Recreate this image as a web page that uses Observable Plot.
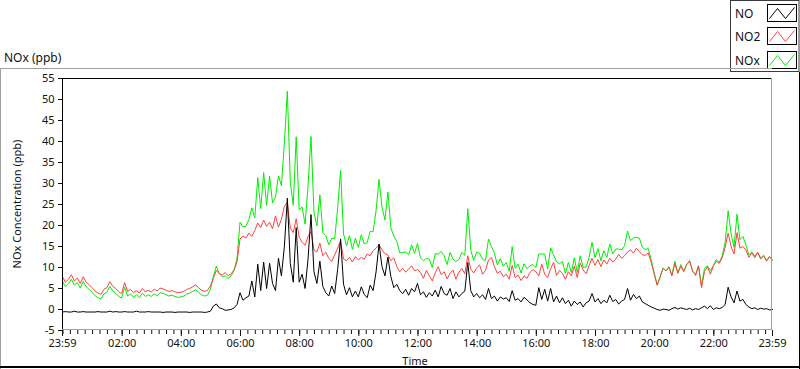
<!DOCTYPE html>
<html><head><meta charset="utf-8">
<script src="https://cdn.jsdelivr.net/npm/d3@7"></script>
<script src="https://cdn.jsdelivr.net/npm/@observablehq/plot@0.6"></script>
<style>
html,body{margin:0;padding:0;background:#fff;}
#chart{width:800px;height:369px;}
svg{display:block;}
</style></head><body><div id="chart"></div>
<script>
// time base: first sample at 23:59 of previous day, one sample every 6 minutes, 241 samples
const startTime = "2023-05-01T23:59:00Z";
const stepMinutes = 6;

const no = [
-0.6,-0.5,-0.6,-0.6,-0.4,-0.6,-0.6,-0.5,-0.6,-0.6,
-0.6,-0.6,-0.5,-0.6,-0.6,-0.6,-0.4,-0.6,-0.5,-0.6,
-0.6,-0.5,-0.6,-0.6,-0.6,-0.4,-0.6,-0.6,-0.6,-0.5,
-0.6,-0.6,-0.6,-0.6,-0.7,-0.6,-0.6,-0.6,-0.7,-0.6,
-0.6,-0.6,-0.6,-0.7,-0.6,-0.6,-0.6,-0.6,-0.7,-0.6,
-0.4,0.8,1.3,0.4,0.2,-0.2,-0.1,0.0,0.4,1.2,
4.0,2.2,2.8,3.2,6.8,3.0,10.8,4.5,11.3,5.0,
11.0,6.2,4.5,12.2,8.0,15.0,26.5,11.0,6.5,19.5,
6.5,8.4,5.0,12.0,22.6,9.0,6.2,11.5,5.5,4.0,
3.2,5.6,3.8,9.5,16.8,6.0,3.5,5.2,3.0,4.4,
3.0,5.4,3.6,2.8,5.8,4.5,9.0,15.6,10.2,8.0,
12.5,7.8,5.2,6.0,4.5,3.8,4.8,3.4,5.0,4.2,
6.2,3.5,4.2,2.9,4.0,3.2,4.6,3.0,5.5,3.8,
3.4,5.0,2.6,4.2,3.0,3.8,4.4,11.2,4.5,3.0,
3.8,2.8,3.5,2.4,5.0,2.6,3.2,2.0,3.0,2.5,
2.8,1.9,4.5,2.2,2.6,1.8,2.9,2.3,1.6,1.2,
1.0,5.2,2.4,4.8,2.0,5.0,1.8,3.2,1.6,2.8,
1.4,2.2,0.8,2.0,1.2,1.8,0.6,1.6,2.0,3.8,
1.8,2.6,1.4,2.2,1.6,3.4,1.9,2.4,1.3,2.0,
2.4,5.0,2.2,3.6,2.6,3.2,1.8,1.4,1.0,0.6,
0.3,0.0,-0.2,0.1,0.0,-0.2,0.2,0.5,0.1,0.4,
0.2,0.0,0.3,-0.1,0.2,0.0,0.4,0.8,0.2,0.9,
0.0,0.4,0.2,0.5,1.2,5.3,3.0,1.6,4.4,2.0,
2.4,1.2,0.6,0.2,0.4,0.0,0.3,0.1,0.2,-0.1,
0.0];

const no2 = [
7.8,6.5,7.2,8.3,6.8,7.5,6.2,7.8,6.5,5.9,
5.2,4.4,3.9,3.6,4.8,5.2,6.6,5.5,5.0,4.2,
3.8,6.4,4.3,4.8,4.0,4.5,3.9,5.0,4.2,4.6,
4.2,4.8,4.4,5.1,4.9,4.6,4.3,4.5,4.2,4.0,
4.1,4.3,4.8,5.0,5.4,5.8,5.2,4.6,4.3,4.5,
5.6,7.4,9.3,8.6,8.2,8.8,8.0,8.5,9.4,11.3,
16.8,17.5,17.0,18.2,17.4,18.8,20.6,19.5,21.3,19.8,
20.8,19.2,22.3,19.6,21.5,24.6,25.5,19.4,18.3,21.6,
17.2,16.0,15.3,17.4,18.6,14.2,13.7,15.8,12.8,13.6,
12.2,11.4,13.0,14.6,16.3,12.0,11.6,12.4,11.3,12.6,
11.8,12.4,12.0,13.2,12.8,14.0,14.6,15.4,14.2,13.3,
13.0,11.6,12.3,10.2,9.0,9.8,8.9,9.6,10.4,9.2,
9.5,8.8,7.4,9.3,8.0,6.8,8.7,10.2,8.3,9.0,
7.3,8.6,9.4,7.2,8.9,9.8,8.5,12.8,9.6,8.7,
9.9,10.6,8.4,9.3,11.8,12.4,10.2,8.6,9.1,7.8,
8.4,7.2,10.5,7.6,8.2,6.9,8.0,7.4,8.8,9.5,
9.0,8.0,10.8,8.4,7.6,9.7,11.2,8.1,9.3,8.6,
7.2,9.0,8.0,10.3,7.6,11.0,9.4,8.5,10.4,12.2,
10.5,11.9,10.2,11.8,10.8,12.2,11.3,12.0,13.1,12.2,
12.8,13.7,14.2,13.4,14.6,13.8,13.0,12.9,13.5,11.2,
8.5,5.8,7.8,9.8,9.2,10.2,8.0,11.0,8.6,10.3,
9.0,10.7,11.4,9.2,8.1,10.4,5.2,9.0,10.2,8.4,
10.4,11.5,11.0,12.3,14.8,18.2,15.0,13.2,18.3,14.6,
15.0,14.2,12.4,13.5,12.3,13.6,12.0,12.8,11.5,12.6,
11.8];

const nox = [
6.7,5.4,6.1,7.2,5.8,6.4,5.1,6.7,5.4,4.8,
4.1,3.3,2.8,2.5,3.7,4.1,5.5,4.4,3.9,3.1,
2.7,5.3,3.2,3.7,2.9,3.5,2.8,3.9,3.1,3.5,
3.1,3.7,3.3,4.0,3.8,3.5,3.2,3.4,3.1,2.9,
3.0,3.2,3.7,3.9,4.3,4.7,4.1,3.5,3.2,3.4,
4.8,7.9,10.3,8.5,7.8,8.0,7.4,8.0,9.3,12.2,
20.8,19.7,19.8,21.4,24.2,21.8,31.4,24.0,32.6,24.8,
31.8,25.4,26.8,31.8,29.5,39.6,52.0,30.4,24.8,41.1,
23.7,24.4,20.3,29.4,41.2,23.2,19.9,27.3,18.3,17.6,
15.4,17.0,16.8,24.1,33.1,18.0,15.1,17.6,14.3,17.0,
14.8,17.8,15.6,16.0,18.6,18.5,23.6,31.0,24.4,21.3,
28.0,19.4,17.5,16.2,13.5,13.6,13.7,13.0,15.4,13.4,
15.7,12.3,11.6,12.2,12.0,10.0,13.3,13.2,13.8,12.8,
10.7,13.6,12.0,11.4,11.9,13.6,12.9,24.0,14.1,11.7,
13.7,13.4,11.9,11.7,16.8,15.0,13.4,10.6,12.1,10.3,
11.2,9.1,15.0,9.8,10.8,8.7,10.9,9.7,10.4,10.7,
10.0,13.2,13.2,13.2,9.6,14.7,13.0,11.3,10.9,11.4,
8.6,11.2,8.8,12.3,8.8,12.8,10.0,10.1,12.4,16.0,
12.3,14.5,11.6,14.0,12.4,15.6,13.2,14.4,14.4,14.2,
15.2,18.7,16.4,17.0,17.2,17.0,14.8,14.3,14.5,11.8,
8.8,5.8,7.6,9.9,9.2,10.0,8.2,11.5,8.7,10.7,
9.2,10.7,11.7,9.1,8.3,10.4,5.6,9.8,10.4,9.3,
10.4,11.9,11.2,12.8,16.0,23.5,18.0,14.8,22.7,16.6,
17.4,15.4,13.0,13.7,12.7,13.6,12.3,12.9,11.7,12.5,
11.8];

const seriesNames = ["NO", "NO2", "NOx"];
const seriesColors = ["#000000", "#ff4040", "#00ee00"];
const yTicks = [-5, 0, 5, 10, 15, 20, 25, 30, 35, 40, 45, 50, 55];
const xTickLabels = ["23:59", "02:00", "04:00", "06:00", "08:00", "10:00", "12:00", "14:00", "16:00", "18:00", "20:00", "22:00", "23:59"];
const yTitle = "NOx Concentration (ppb)";
const xTitle = "Time";
const panelTitle = "NOx (ppb)";

const t0 = new Date(startTime);
const stepMs = stepMinutes * 60000;
const tEnd = new Date(t0.getTime() + 24 * 3600000);
const nextDay = "2023-05-02";

function rows(vals) { return vals.map((v, i) => ({time: new Date(t0.getTime() + i * stepMs), value: v})); }
const dNO = rows(no), dNO2 = rows(no2), dNOx = rows(nox);

const majorTicks = xTickLabels.map((lab, i) =>
  i === 0 ? t0 : i === xTickLabels.length - 1 ? tEnd : new Date(`${nextDay}T${lab}:00Z`));
const minorTicks = d3.utcMinute.every(15).range(new Date(`${nextDay}T00:00:00Z`), tEnd);
const fmt = d3.utcFormat("%H:%M");

const W = 800, H = 369;
const mL = 62, mR = 28, mT = 78, mB = 39;

const chart = Plot.plot({
  width: W, height: H,
  marginLeft: mL, marginRight: mR, marginTop: mT, marginBottom: mB,
  style: {fontFamily: "'Noto Sans', sans-serif", fontSize: "11px", color: "#111", background: "#fff", overflow: "visible"},
  x: {type: "utc", domain: [t0, tEnd]},
  y: {domain: [-5, 55]},
  marks: [
    Plot.lineY(dNOx, {x: "time", y: "value", stroke: seriesColors[2], strokeWidth: 1}),
    Plot.lineY(dNO2, {x: "time", y: "value", stroke: seriesColors[1], strokeWidth: 1}),
    Plot.lineY(dNO, {x: "time", y: "value", stroke: seriesColors[0], strokeWidth: 1}),
    Plot.axisY(yTicks, {anchor: "left", tickSize: 4, tickPadding: 4, tickFormat: d => String(d), label: null}),
    Plot.axisX(minorTicks, {anchor: "bottom", tickSize: 4, tickFormat: () => "", label: null}),
    Plot.axisX(majorTicks, {anchor: "bottom", tickSize: 6, tickPadding: 3, tickFormat: fmt, label: null})
  ]
});
document.getElementById("chart").appendChild(chart);

const svg = d3.select(chart);
const g = svg.append("g").attr("fill", "none");
const x0 = mL, x1 = W - mR, y0 = mT, y1 = H - mB;

// plot area frame (sunken look)
g.append("line").attr("x1", x0).attr("x2", x1).attr("y1", y0 + 0.5).attr("y2", y0 + 0.5).attr("stroke", "#000");
g.append("line").attr("x1", x0 + 0.5).attr("x2", x0 + 0.5).attr("y1", y0).attr("y2", y1).attr("stroke", "#000");
g.append("line").attr("x1", x0).attr("x2", x1).attr("y1", y1 - 0.5).attr("y2", y1 - 0.5).attr("stroke", "#a0a0a0");
g.append("line").attr("x1", x1 - 0.5).attr("x2", x1 - 0.5).attr("y1", y0).attr("y2", y1).attr("stroke", "#a0a0a0");

// legend box
const lg = svg.append("g").attr("text-anchor", "start");
lg.append("rect").attr("x", 730.5).attr("y", 0.5).attr("width", 68.5).attr("height", 71)
  .attr("fill", "#fff").attr("stroke", "#3a3a3a");
seriesNames.forEach((name, k) => {
  const cy = [13, 36, 60][k];
  lg.append("text").attr("x", 735).attr("y", cy + 4.5).attr("text-anchor", "start")
    .attr("font-family", "'Noto Sans', sans-serif")
    .attr("font-size", "12px").attr("fill", "#111").text(name);
  const bx = 767.5, by = cy - 8.5;
  lg.append("rect").attr("x", bx).attr("y", by).attr("width", 29).attr("height", 17)
    .attr("fill", "#fff").attr("stroke", "#000");
  lg.append("polyline").attr("fill", "none").attr("stroke", seriesColors[k]).attr("stroke-width", 1)
    .attr("points", [[bx + 2, by + 14], [bx + 10, by + 4], [bx + 18, by + 14], [bx + 27, by + 3]].map(p => p.join(",")).join(" "));
});

// outer panel frame
const pf = svg.append("g").attr("fill", "none");
pf.append("line").attr("x1", 0).attr("x2", 772).attr("y1", 68.5).attr("y2", 68.5).attr("stroke", "#a0a0a0");
pf.append("line").attr("x1", 0.5).attr("x2", 0.5).attr("y1", 68).attr("y2", H).attr("stroke", "#a0a0a0");
pf.append("line").attr("x1", 0).attr("x2", W).attr("y1", 367).attr("y2", 367).attr("stroke", "#000").attr("stroke-width", 2);
pf.append("line").attr("x1", 799.5).attr("x2", 799.5).attr("y1", 72).attr("y2", H).attr("stroke", "#000");

// titles
const tg = svg.append("g").attr("font-family", "'Noto Sans', sans-serif").attr("fill", "#111");
tg.append("text").attr("x", 4).attr("y", 62).attr("text-anchor", "start").attr("font-size", "12px").text(panelTitle);
tg.append("text").attr("transform", `translate(21,${(y0 + y1) / 2}) rotate(-90)`).attr("text-anchor", "middle")
  .attr("font-size", "11px").text(yTitle);
tg.append("text").attr("x", (x0 + x1) / 2 - 2).attr("y", 365).attr("text-anchor", "middle")
  .attr("font-size", "11px").text(xTitle);
</script>
</body></html>
